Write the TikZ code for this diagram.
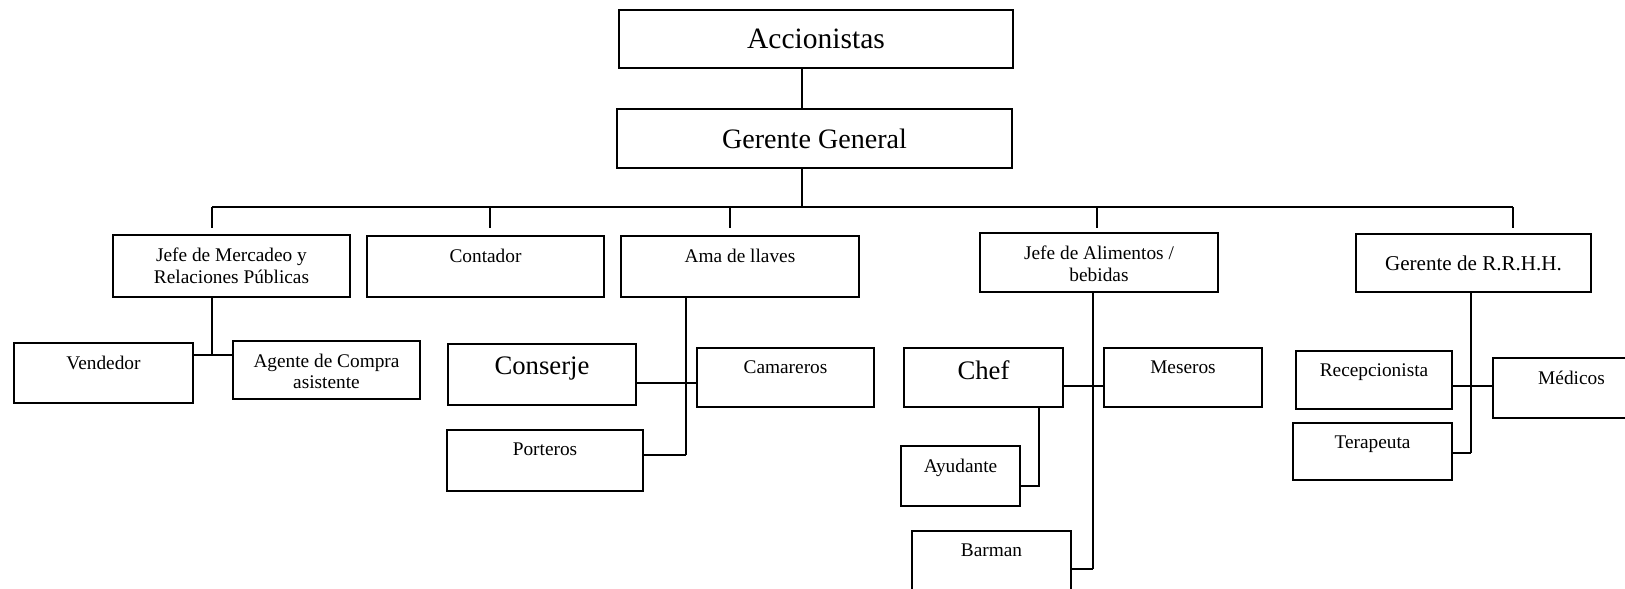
\documentclass[tikz,border=0pt]{standalone}
\usepackage{fontspec}
\setmainfont{Liberation Serif}
\usetikzlibrary{positioning}
\def\pxu{0.02cm}
\tikzset{
  box/.style={draw,line width=0.9pt,inner sep=0pt},
  sz/.style 2 args={minimum width=#1*\pxu,minimum height=#2*\pxu},
  lbl/.style={font=\fontsize{11}{12.4}\selectfont,align=center,inner sep=0pt,anchor=north,yshift=-7.5pt},
  tbox/.style={box,label={[lbl]north:#1}},
  tboxm/.style={box,label={[lbl,font=\fontsize{15.2}{18}\selectfont]north:#1}},
  link/.style={line width=0.9pt},
}
\begin{document}
\begin{tikzpicture}[x=\pxu,y=-\pxu]
  \useasboundingbox (0,0) rectangle (1625,588);
  \clip (0,0) rectangle (1625,588);
  % top of the chart
  \node[box,sz={394}{58},font=\fontsize{16.8}{20}\selectfont] (acc) at (816,39) {Accionistas};
  \node[box,sz={395}{59},font=\fontsize{16}{19}\selectfont] (gg) at (814.5,138.5) {Gerente General};
  \coordinate (spine) at (802,207);
  \coordinate (busl) at (212,207);
  \coordinate (busr) at (1513,207);
  \draw[link] (spine |- acc.south) -- (spine |- gg.north);
  \draw[link] (spine |- gg.south) -- (spine);
  \draw[link] (busl) -- (busr);
  \foreach \n/\x in {1/212,2/490,3/730,4/1097,5/1513} {
    \coordinate (t\n) at (\x,228);
    \draw[link] (t\n |- busl) -- (t\n);
  }
  % jefes
  \node[tbox={Jefe de Mercadeo y\\Relaciones Públicas},sz={237}{62}] (merc) at (231.5,266) {};
  \node[tbox=Contador,sz={237}{61}] (cont) at (485.5,266.5) {};
  \node[tbox={Ama de llaves},sz={238}{61}] (ama) at (740,266.5) {};
  \node[tbox={Jefe de Alimentos /\\bebidas},sz={238}{59}] (alim) at (1099,262.5) {};
  \node[box,sz={235}{58},font=\fontsize{12}{14}\selectfont] (rrhh) at (1473.5,263) {Gerente de R.R.H.H.};
  % mercadeo
  \coordinate (jm) at (212,355);
  \node[tbox=Vendedor,sz={179}{60}] (vend) at (103.5,373) {};
  \node[tbox={Agente de Compra\\asistente},sz={187}{58}] (agen) at (326.5,370) {};
  \draw[link] (jm |- merc.south) -- (jm);
  \draw[link] (vend.east |- jm) -- (agen.west |- jm);
  % ama de llaves
  \coordinate (ja) at (686,455);
  \coordinate (ka) at (686,383);
  \node[tboxm=Conserje,sz={188}{61}] (cons) at (542,374.5) {};
  \node[tbox=Camareros,sz={177}{59}] (cama) at (785.5,377.5) {};
  \node[tbox=Porteros,sz={196}{61}] (port) at (545,460.5) {};
  \draw[link] (ja |- ama.south) -- (ja);
  \draw[link] (cons.east |- ka) -- (cama.west |- ka);
  \draw[link] (port.east |- ja) -- (ja);
  % alimentos y bebidas
  \coordinate (jf) at (1093,569);
  \coordinate (kf) at (1093,386);
  \coordinate (jc) at (1039,486);
  \node[tboxm=Chef,sz={159}{59}] (chef) at (983.5,377.5) {};
  \node[tbox=Meseros,sz={158}{59}] (mese) at (1183,377.5) {};
  \node[tbox=Ayudante,sz={119}{60}] (ayud) at (960.5,476) {};
  \node[tbox=Barman,sz={159}{69}] (barm) at (991.5,565.5) {};
  \draw[link] (jf |- alim.south) -- (jf);
  \draw[link] (chef.east |- kf) -- (mese.west |- kf);
  \draw[link] (jc |- chef.south) -- (jc) -- (ayud.east |- jc);
  \draw[link] (barm.east |- jf) -- (jf);
  % recursos humanos
  \coordinate (jr) at (1471,453);
  \coordinate (kr) at (1471,386);
  \node[tbox=Recepcionista,sz={156}{58}] (recp) at (1374,380) {};
  \node[tbox=Médicos,sz={157}{60}] (medi) at (1571.5,388) {};
  \node[tbox=Terapeuta,sz={159}{57}] (tera) at (1372.5,451.5) {};
  \draw[link] (jr |- rrhh.south) -- (jr);
  \draw[link] (recp.east |- kr) -- (medi.west |- kr);
  \draw[link] (tera.east |- jr) -- (jr);
\end{tikzpicture}
\end{document}
